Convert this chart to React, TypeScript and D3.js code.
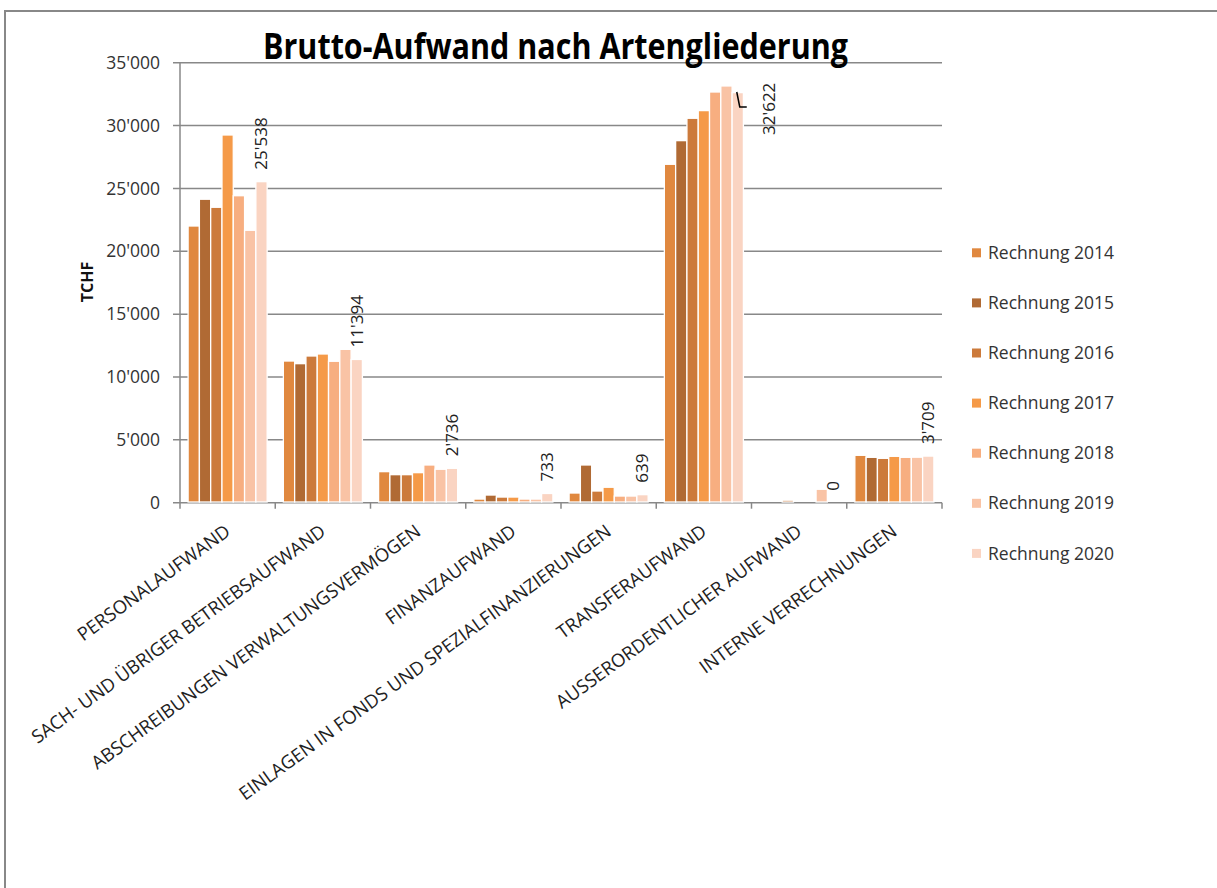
import { useEffect, useRef } from "react";
import * as d3 from "d3";

const categories = [
  "PERSONALAUFWAND",
  "SACH- UND ÜBRIGER BETRIEBSAUFWAND",
  "ABSCHREIBUNGEN VERWALTUNGSVERMÖGEN",
  "FINANZAUFWAND",
  "EINLAGEN IN FONDS UND SPEZIALFINANZIERUNGEN",
  "TRANSFERAUFWAND",
  "AUSSERORDENTLICHER AUFWAND",
  "INTERNE VERRECHNUNGEN",
];
const series = [
  "Rechnung 2014",
  "Rechnung 2015",
  "Rechnung 2016",
  "Rechnung 2017",
  "Rechnung 2018",
  "Rechnung 2019",
  "Rechnung 2020",
];
const colors = ["#E0883F", "#B06A34", "#CC7A3B", "#F59A48", "#F7AE80", "#F9C3A5", "#FAD4C2"];

// one array per year, order as categories
const r2014 = [22010, 11270, 2470, 290, 770, 26920, 0, 3770];
const r2015 = [24140, 11060, 2230, 610, 3000, 28800, 0, 3610];
const r2016 = [23500, 11670, 2230, 450, 930, 30580, 200, 3530];
const r2017 = [29250, 11830, 2390, 450, 1230, 31190, 0, 3690];
const r2018 = [24420, 11250, 3000, 290, 530, 32670, 0, 3610];
const r2019 = [21670, 12200, 2660, 290, 530, 33150, 1070, 3620];
const r2020 = [25538, 11394, 2736, 733, 639, 32622, 0, 3709];
const values = [r2014, r2015, r2016, r2017, r2018, r2019, r2020];
const yTicks = [0, 5000, 10000, 15000, 20000, 25000, 30000, 35000];

const App = () => {
  const ref = useRef<SVGSVGElement>(null);

  useEffect(() => {
    const svg = d3.select(ref.current);
    svg.selectAll("*").remove();

    const left = 180, right = 942, top = 62.7, bottom = 502.7;
    const font = "'Open Sans', sans-serif";
    const fmt = d3.formatLocale({ decimal: ".", thousands: "'", grouping: [3], currency: ["", ""] }).format(",d");

    const x0 = d3.scaleBand().domain(categories).range([left, right]).paddingInner(0.17).paddingOuter(0.085);
    const x1 = d3.scaleBand().domain(series).range([0, x0.bandwidth()]);
    const y = d3.scaleLinear().domain([0, 35000]).range([bottom, top]);

    // frame (only top and left edges are inside the picture)
    svg.append("path").attr("d", "M5,888 L5,11 L1217,11")
      .attr("fill", "none").attr("stroke", "#888").attr("stroke-width", 2);

    // grid + y axis
    svg.append("g").selectAll("line").data(yTicks).enter().append("line")
      .attr("x1", left - 7).attr("x2", right).attr("y1", (d) => y(d)).attr("y2", (d) => y(d))
      .attr("stroke", "#888").attr("stroke-width", 1.5);
    svg.append("line").attr("x1", left).attr("x2", left).attr("y1", top).attr("y2", bottom)
      .attr("stroke", "#888").attr("stroke-width", 1.5);
    svg.append("g").selectAll("text").data(yTicks).enter().append("text")
      .attr("x", 160).attr("y", (d) => y(d)).attr("dy", "0.35em").attr("text-anchor", "end")
      .style("font-family", font).style("font-size", "17.5px").attr("fill", "#333").text((d) => fmt(d));

    // x ticks
    const bounds = d3.range(categories.length + 1).map((i) => left + (i * (right - left)) / categories.length);
    svg.append("g").selectAll("line").data(bounds).enter().append("line")
      .attr("x1", (d) => d).attr("x2", (d) => d).attr("y1", bottom).attr("y2", bottom + 6)
      .attr("stroke", "#888").attr("stroke-width", 1.5);

    // bars
    const groups = svg.append("g").selectAll("g").data(categories).enter().append("g")
      .attr("transform", (d) => `translate(${x0(d)},0)`);
    groups.selectAll("rect")
      .data((d, ci) => series.map((s, si) => ({ s, si, v: values[si][ci] })).filter((d) => d.v > 0))
      .enter().append("rect")
      .attr("x", (d) => x1(d.s)!).attr("width", x1.bandwidth())
      .attr("y", (d) => y(d.v)).attr("height", (d) => bottom - y(d.v) - 0.7)
      .attr("fill", (d) => colors[d.si]).attr("stroke", "#fff").attr("stroke-width", 1.3);

    // data labels for 2020
    const lab = svg.append("g");
    categories.forEach((c, ci) => {
      const v = r2020[ci];
      const cx = x0(c)! + x1("Rechnung 2020")! + x1.bandwidth() / 2;
      let lx = cx, ly = y(v) - 12;
      if (c === "TRANSFERAUFWAND") {
        lx = 769.5; ly = 135;
        lab.append("polyline").attr("points", `${cx - 1},92 ${cx + 2},107 ${cx + 9},107`)
          .attr("fill", "none").attr("stroke", "#000").attr("stroke-width", 1.5);
      }
      lab.append("text").attr("transform", `translate(${lx},${ly}) rotate(-90)`)
        .attr("dy", "0.35em").style("font-family", font).style("font-size", "17px")
        .attr("fill", "#222").text(fmt(v));
    });

    // category labels
    svg.append("g").selectAll("text").data(categories).enter().append("text")
      .attr("transform", (d) => `translate(${x0(d)! + x0.bandwidth() / 2 + 4},${534}) rotate(-36)`)
      .attr("text-anchor", "end").style("font-family", font).style("font-size", "18.5px")
      .attr("fill", "#222").text((d) => d);

    // y label
    svg.append("text").attr("transform", "translate(87,282) rotate(-90)").attr("text-anchor", "middle")
      .attr("dy", "0.35em").style("font-family", font).style("font-size", "16px").style("font-weight", "bold")
      .attr("fill", "#111").text("TCHF");

    // title
    svg.append("text").attr("x", 263).attr("y", 59).attr("textLength", 585).attr("lengthAdjust", "spacingAndGlyphs")
      .style("font-family", font).style("font-size", "35px").style("font-weight", "bold")
      .attr("fill", "#000").text("Brutto-Aufwand nach Artengliederung");

    // legend
    const lg = svg.append("g").selectAll("g").data(series).enter().append("g")
      .attr("transform", (d, i) => `translate(972,${252.8 + i * 50.1})`);
    lg.append("rect").attr("x", 0).attr("y", -4.5).attr("width", 9).attr("height", 9).attr("fill", (d, i) => colors[i]);
    lg.append("text").attr("x", 16).attr("dy", "0.35em").style("font-family", font).style("font-size", "17.5px")
      .attr("fill", "#333").text((d) => d);
  }, []);

  return (
    <svg ref={ref} width={1217} height={888}
      style={{ position: "absolute", left: 0, top: 0, background: "#fff", overflow: "hidden" }} />
  );
};

export default App;
